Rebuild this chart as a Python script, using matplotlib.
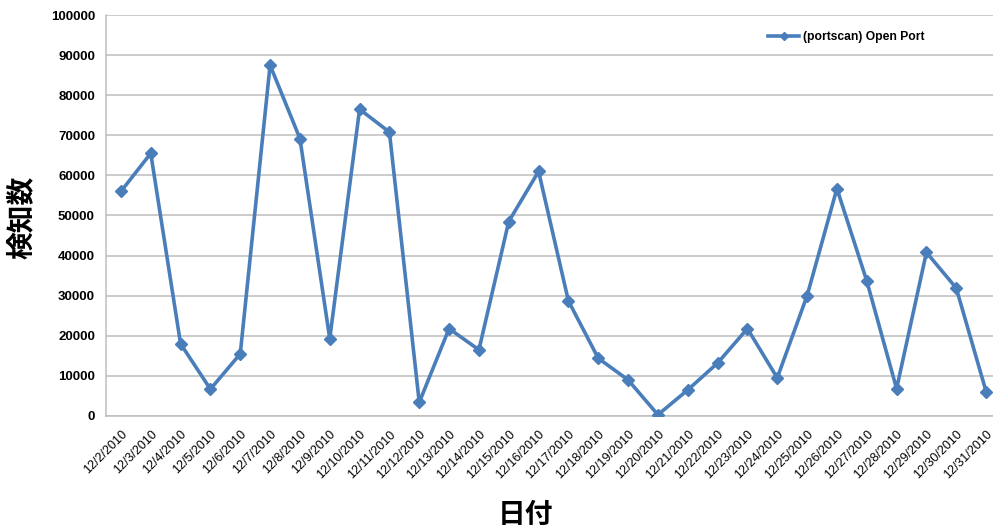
import matplotlib
matplotlib.use("Agg")
import matplotlib.pyplot as plt
from matplotlib.ticker import MultipleLocator

dates = ["12/2/2010", "12/3/2010", "12/4/2010", "12/5/2010", "12/6/2010",
         "12/7/2010", "12/8/2010", "12/9/2010", "12/10/2010", "12/11/2010",
         "12/12/2010", "12/13/2010", "12/14/2010", "12/15/2010", "12/16/2010",
         "12/17/2010", "12/18/2010", "12/19/2010", "12/20/2010", "12/21/2010",
         "12/22/2010", "12/23/2010", "12/24/2010", "12/25/2010", "12/26/2010",
         "12/27/2010", "12/28/2010", "12/29/2010", "12/30/2010", "12/31/2010"]
open_port = [56000, 65500, 18000, 6700, 15500,
             87500, 69200, 19300, 76500, 70800,
             3400, 21800, 16500, 48500, 61000,
             28700, 14400, 9000, 300, 6500,
             13200, 21800, 9500, 30000, 56700,
             33700, 6800, 40800, 31900, 6100]
series_name = "(portscan) Open Port"

W, H = 993, 531
fig = plt.figure(figsize=(W / 100, H / 100), dpi=100)
ax = fig.add_axes([106 / W, (H - 416) / H, (1001 - 106) / W, 401 / H])

x = list(range(len(dates)))
ax.plot(x, open_port, color="#4A7EBB", lw=2.6, marker="D", ms=6.5,
        label=series_name, zorder=3)

ax.set_xlim(-0.5, len(dates) - 0.5)
ax.set_ylim(0, 100000)
ax.yaxis.set_major_locator(MultipleLocator(10000))
ax.grid(axis="y", color="#BDBDBD", lw=1.1)
ax.set_axisbelow(True)

for s in ("top", "right"):
    ax.spines[s].set_visible(False)
for s in ("left", "bottom"):
    ax.spines[s].set_color("#BDBDBD")
    ax.spines[s].set_linewidth(1.1)

ax.set_xticks(x)
ax.set_xticklabels(dates, rotation=45, ha="right", rotation_mode="anchor",
                   fontsize=9, family="Liberation Sans")
ax.tick_params(axis="x", length=0, pad=9)
ax.tick_params(axis="y", length=0, pad=8)
for lbl in ax.get_yticklabels():
    lbl.set_fontweight("bold")
    lbl.set_fontsize(9.5)
    lbl.set_family("Liberation Sans")

cjk = ["Noto Sans CJK JP", "DejaVu Sans"]
fig.text(22 / W, 1 - 217 / H, "検知数", family=cjk, fontsize=20,
         fontweight="bold", rotation=90, ha="center", va="center")
fig.text(525 / W, 1 - 515 / H, "日付", family=cjk, fontsize=20,
         fontweight="bold", ha="center", va="center")

ax.legend(loc="center left", bbox_to_anchor=((768 - 106) / 895, 1 - 22 / 401),
          frameon=False, borderaxespad=0, borderpad=0,
          prop={"family": "Liberation Sans", "weight": "bold", "size": 8.7},
          handlelength=2.6, handletextpad=0.3, markerscale=0.7)

fig.savefig("out.png", dpi=100)
